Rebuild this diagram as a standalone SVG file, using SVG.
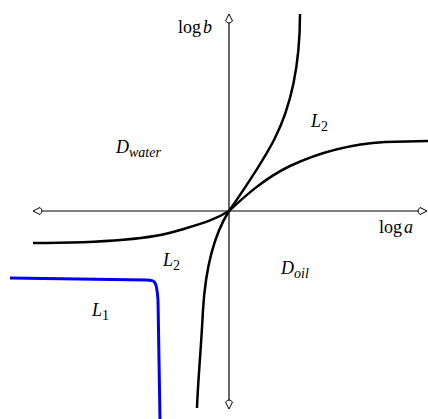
<svg xmlns="http://www.w3.org/2000/svg" width="428" height="419" viewBox="0 0 428 419">
<style>
.axis{stroke:#000;stroke-width:1.2;fill:none}
.head{stroke:#000;stroke-width:1;fill:#fff}
.curve{stroke:#000;stroke-width:2.5;fill:none;stroke-linejoin:round;stroke-linecap:butt}
.blue{stroke:#0000ee;stroke-width:3;fill:none;stroke-linejoin:round}
text{font-family:"Liberation Serif",serif;font-size:18px;fill:#000}
.it{font-style:italic}
.sub{font-size:14px;font-style:italic}
.num{font-size:14px;font-style:normal}
</style>
<rect width="428" height="419" fill="#fff"/>
<g id="axes">
<line class="axis" x1="38" y1="211" x2="422" y2="211"/>
<line class="axis" x1="229" y1="19" x2="229" y2="404"/>
<path class="head" d="M33,211 L40,207.5 Q44,211 40,214.5 Z"/>
<path class="head" d="M427,211 L420,207.5 Q416,211 420,214.5 Z"/>
<path class="head" d="M229,14 L225.5,21 Q229,25 232.5,21 Z"/>
<path class="head" d="M229,409 L225.5,402 Q229,398 232.5,402 Z"/>
</g>
<g id="curves">
<path class="curve" d="M300,14 C300,60 292,105 274,140 C262,163 245,188 229,211 C217,230 206,260 203,310 C201,350 198,380 197,408"/>
<path class="curve" d="M33,243 C90,243 150,240 180,230 C200,224 215,220 229,211 C245,196 265,178 290,166 C320,152 350,144 385,142 L428,141"/>
<path class="blue" d="M10,278 L146,280 Q154,280 155,283 Q157,286 158,300 L160,419"/>
</g>
<g id="labels">
<text x="178" y="33">log<tspan class="it" dx="2">b</tspan></text>
<text x="379" y="233">log<tspan class="it" dx="2">a</tspan></text>
<text x="116" y="153" class="it">D<tspan class="sub" dy="4">water</tspan></text>
<text x="281" y="274" class="it">D<tspan class="sub" dy="4">oil</tspan></text>
<text x="311" y="127" class="it">L<tspan class="num" dy="4">2</tspan></text>
<text x="163" y="266" class="it">L<tspan class="num" dy="4">2</tspan></text>
<text x="92" y="316" class="it">L<tspan class="num" dy="4">1</tspan></text>
</g>
</svg>
